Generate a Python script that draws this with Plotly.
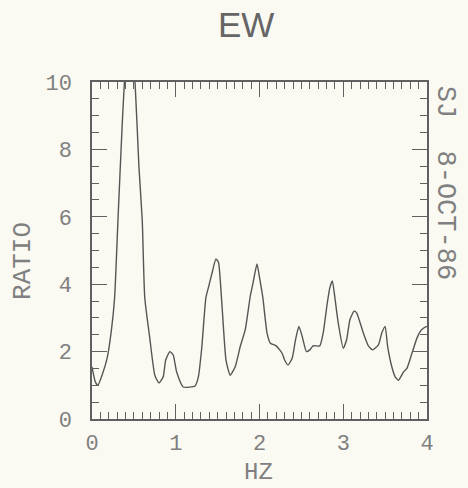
import plotly.graph_objects as go

# Spectral ratio curve (HZ vs RATIO)
hz = [0.00, 0.04, 0.07, 0.12, 0.18, 0.23, 0.27, 0.31, 0.36, 0.40, 0.455, 0.51, 0.56, 0.60,
      0.63, 0.69, 0.75, 0.80, 0.85, 0.88, 0.93, 0.97, 1.01, 1.09, 1.23, 1.27, 1.31, 1.36,
      1.39, 1.44, 1.48, 1.51, 1.55, 1.60, 1.65, 1.71, 1.77, 1.83, 1.89, 1.92, 1.97, 2.00,
      2.04, 2.09, 2.13, 2.20, 2.27, 2.30, 2.34, 2.39, 2.43, 2.47, 2.51, 2.56, 2.60, 2.64,
      2.72, 2.76, 2.81, 2.84, 2.87, 2.90, 2.94, 3.00, 3.04, 3.08, 3.13, 3.16, 3.24, 3.30,
      3.35, 3.42, 3.46, 3.50, 3.53, 3.58, 3.62, 3.66, 3.72, 3.76, 3.82, 3.88, 3.92, 3.96, 4.00]
ratio = [1.55, 1.10, 1.00, 1.30, 1.80, 2.60, 3.60, 5.90, 8.70, 10.5, 11.8, 10.2, 7.50, 5.90,
         3.60, 2.40, 1.30, 1.07, 1.25, 1.75, 2.00, 1.90, 1.40, 0.95, 0.98, 1.25, 2.10, 3.60,
         3.90, 4.40, 4.75, 4.65, 3.45, 1.75, 1.30, 1.55, 2.15, 2.65, 3.65, 4.00, 4.60, 4.20,
         3.60, 2.55, 2.25, 2.17, 1.95, 1.75, 1.60, 1.80, 2.35, 2.75, 2.45, 2.00, 2.05, 2.17,
         2.17, 2.55, 3.45, 3.90, 4.10, 3.60, 2.85, 2.10, 2.35, 2.95, 3.20, 3.15, 2.55, 2.17,
         2.05, 2.20, 2.55, 2.75, 2.15, 1.55, 1.25, 1.15, 1.40, 1.50, 1.95, 2.40, 2.60, 2.70, 2.75]

x_ticks = [0, 1, 2, 3, 4]
y_ticks = [0, 2, 4, 6, 8, 10]

BG = "#fafaf2"
INK = "#606060"
LABEL = "#808080"
MONO = "Liberation Mono, DejaVu Sans Mono, monospace"

fig = go.Figure()
fig.add_trace(go.Scatter(x=hz, y=ratio, mode="lines",
                         line=dict(color="#555555", width=1.4, shape="spline", smoothing=0.5),
                         showlegend=False, hoverinfo="skip"))

axis_common = dict(
    showgrid=False, zeroline=False, showline=True, linecolor=INK, linewidth=1.5,
    ticks="inside", tickcolor=INK, tickwidth=1.2, ticklen=15, mirror="allticks",
    tickfont=dict(family=MONO, size=22, color=LABEL), automargin=False,
)

fig.update_layout(
    width=468, height=488,
    paper_bgcolor=BG, plot_bgcolor=BG,
    margin=dict(l=92, r=41, t=82, b=69, autoexpand=False),
    title=dict(text="EW", x=0.526, xanchor="center", y=0.95, yanchor="middle",
               font=dict(family="Liberation Sans, Arial, sans-serif", size=35, color="#666666")),
    xaxis=dict(range=[0, 4], tickvals=x_ticks, ticktext=[str(v) for v in x_ticks],
               minor=dict(dtick=0.1, ticklen=7, ticks="inside", tickcolor=INK, tickwidth=1.2),
               ticklabelstandoff=3, **axis_common),
    yaxis=dict(range=[0, 10], tickvals=y_ticks, ticktext=[str(v) for v in y_ticks],
               minor=dict(dtick=0.5, ticklen=7, ticks="inside", tickcolor=INK, tickwidth=1.2),
               ticklabelstandoff=14, **axis_common),
    annotations=[
        dict(text="HZ", xref="paper", yref="paper", x=0.4985, y=-0.158,
             xanchor="center", yanchor="middle", showarrow=False,
             font=dict(family=MONO, size=24, color=LABEL)),
        dict(text="RATIO", xref="paper", yref="paper", x=-0.206, y=0.469,
             xanchor="center", yanchor="middle", textangle=-90, showarrow=False,
             font=dict(family=MONO, size=26, color=LABEL)),
        dict(text="SJ  8-OCT-86", xref="paper", yref="paper", x=1.052, y=0.70,
             xanchor="center", yanchor="middle", textangle=90, showarrow=False,
             font=dict(family=MONO, size=27, color=LABEL)),
    ],
)

fig.write_html("out.html", config={"displayModeBar": False},
               post_script="document.body.style.margin='0';document.body.style.background='#fafaf2';")
